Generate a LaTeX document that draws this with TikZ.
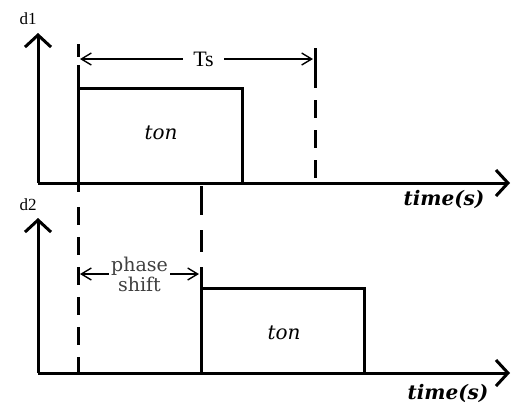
\documentclass[tikz,border=0pt]{standalone}
\usepackage{fontspec}
\setmainfont{Liberation Serif}
\newfontfamily\dvserif{DejaVu Serif}
\usetikzlibrary{arrows.meta}
\tikzset{
  axis/.style={line width=1.5pt, -{Straight Barb[length=6pt,width=13pt,line width=1.5pt]}},
  pulse/.style={line width=1.5pt},
  guide/.style={line width=1.5pt, dash pattern=on 9pt off 6pt},
  span/.style={line width=0.7pt, {Straight Barb[length=5pt,width=6pt]}-{Straight Barb[length=5pt,width=6pt]}},
  axlabel/.style={font=\fontsize{8.5}{10}\selectfont},
  tlabel/.style={font=\dvserif\bfseries\itshape\fontsize{10}{12}\selectfont},
  onlabel/.style={font=\dvserif\itshape\fontsize{10}{12}\selectfont},
}
\begin{document}
\begin{tikzpicture}[x=0.5pt, y=-0.5pt]
  \useasboundingbox (0,0) rectangle (512,408);

  % d1
  \coordinate (o1) at (38,183);
  \coordinate (y1) at (38,33);
  \coordinate (x1) at (510,183);
  \draw[axis] (o1) -- (y1);
  \draw[axis] (o1) -- (x1);
  \node[axlabel] (d1) at (28,19) {d1};
  \node[tlabel] (time1) at (444,199) {time(s)};

  % 第一个脉冲
  \coordinate (a0) at (78,44);
  \coordinate (a1) at (78,57);
  \coordinate (a2) at (78,65);
  \coordinate (a3) at (78,192);
  \coordinate (p1) at (78,88);
  \coordinate (q1) at (242,88);
  \coordinate (r1) at (242,183);
  \draw[pulse] (a0) -- (a1);
  \draw[pulse] (a2) -- (a3);
  \draw[pulse] (p1) -- (q1) -- (r1);
  \node[onlabel] (on1) at (161,133) {ton};

  % Ts
  \coordinate (b0) at (315,48);
  \coordinate (b1) at (315,70);
  \coordinate (b2) at (315,183);
  \draw[pulse] (b0) -- (b1);
  \draw[guide] (b1) -- (b2);
  \coordinate (s0) at (80,59);
  \coordinate (s1) at (313,59);
  \draw[span] (s0) -- (s1)
    node[pos=0.53, fill=white, inner xsep=5pt, inner ysep=1pt, font=\fontsize{11}{12}\selectfont] (ts) {Ts};

  % d2
  \coordinate (o2) at (38,373);
  \coordinate (y2) at (38,218);
  \coordinate (x2) at (510,373);
  \draw[axis] (o2) -- (y2);
  \draw[axis] (o2) -- (x2);
  \node[axlabel] (d2) at (28,205) {d2};
  \node[tlabel] (time2) at (448,393) {time(s)};

  % 第二个脉冲
  \coordinate (c0) at (78,207);
  \coordinate (c1) at (78,373);
  \draw[guide] (c0) -- (c1);
  \coordinate (e0) at (201,186);
  \coordinate (e1) at (201,215);
  \coordinate (e2) at (201,230);
  \coordinate (e3) at (201,252);
  \coordinate (e4) at (201,267);
  \coordinate (e5) at (201,373);
  \draw[pulse] (e0) -- (e1);
  \draw[pulse] (e2) -- (e3);
  \draw[pulse] (e4) -- (e5);
  \coordinate (p2) at (201,288);
  \coordinate (q2) at (364,288);
  \coordinate (r2) at (364,373);
  \draw[pulse] (p2) -- (q2) -- (r2);
  \node[onlabel] (on2) at (284,333) {ton};

  % 相移
  \coordinate (f0) at (80,274);
  \coordinate (f1) at (199,274);
  \draw[span] (f0) -- (f1)
    node[pos=0.5, fill=white, inner sep=1pt, align=center, text=black!75,
         font=\dvserif\fontsize{9.5}{10}\selectfont] (ph) {phase\\shift};
\end{tikzpicture}
\end{document}
